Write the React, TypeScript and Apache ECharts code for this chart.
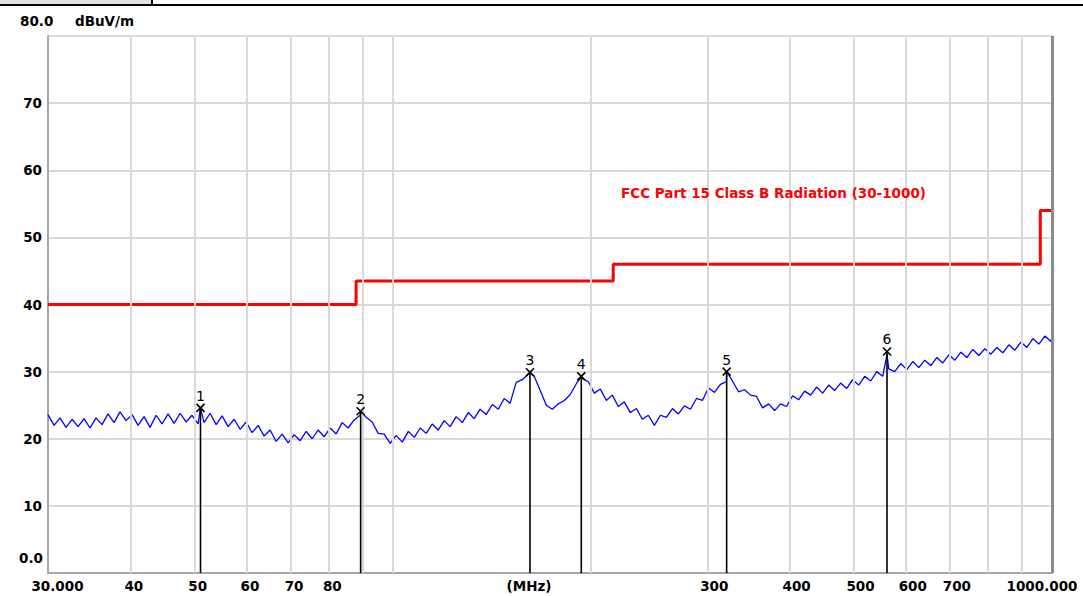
import React, { useEffect, useRef } from 'react';
import * as echarts from 'echarts';

// Measured trace (frequency in MHz, level in dBuV/m)
const traceFreqMHz = [
  30.0, 30.64, 31.29, 31.95, 32.63, 33.32, 34.02, 34.74, 35.48, 36.23,
  37.0, 37.78, 38.58, 39.4, 40.24, 41.09, 41.96, 42.85, 43.76, 44.68,
  45.63, 46.6, 47.59, 48.59, 49.62, 50.68, 51.1, 51.75, 52.85, 53.97,
  55.11, 56.28, 57.47, 58.69, 59.93, 61.2, 62.5, 63.82, 65.17, 66.55,
  67.96, 69.4, 70.87, 72.37, 73.91, 75.47, 77.07, 78.7, 80.37, 82.07,
  83.81, 85.59, 87.4, 89.25, 89.4, 91.14, 93.07, 95.05, 97.06, 99.12,
  101.2, 103.4, 105.6, 107.8, 110.1, 112.4, 114.8, 117.2, 119.7, 122.2,
  124.8, 127.5, 130.2, 132.9, 135.7, 138.6, 141.6, 144.6, 147.6, 150.7,
  153.9, 157.2, 160.5, 161.5, 163.9, 167.4, 171.0, 174.6, 178.3, 182.1,
  185.9, 189.9, 193.2, 193.9, 198.0, 202.2, 206.5, 210.9, 215.3, 219.9,
  224.5, 229.3, 234.2, 239.1, 244.2, 249.4, 254.7, 260.1, 265.6, 271.2,
  277.0, 282.9, 288.9, 295.0, 301.2, 307.6, 314.1, 320.8, 321.0, 327.6,
  334.6, 341.7, 348.9, 356.3, 363.9, 371.6, 379.5, 387.5, 395.7, 404.1,
  412.7, 421.5, 430.4, 439.5, 448.8, 458.4, 468.1, 478.0, 488.2, 498.5,
  509.1, 519.9, 530.9, 542.2, 553.7, 562.0, 565.4, 577.4, 589.6, 602.1,
  614.9, 627.9, 641.2, 654.8, 668.7, 682.9, 697.4, 712.2, 727.3, 742.7,
  758.4, 774.5, 790.9, 807.7, 824.8, 842.3, 860.2, 878.4, 897.0, 916.0,
  935.5, 955.3, 975.6, 996.3, 1000.0
];
const traceLevelDb = [
  23.6, 22.0, 23.1, 21.7, 22.9, 21.8, 23.0, 21.6, 23.1, 22.1,
  23.7, 22.4, 24.0, 22.7, 23.6, 22.0, 23.3, 21.7, 23.5, 22.2,
  23.7, 22.3, 23.8, 22.5, 23.5, 22.2, 24.6, 22.4, 23.8, 22.1,
  23.4, 21.8, 22.9, 21.4, 22.5, 20.9, 22.0, 20.4, 21.3, 19.6,
  20.7, 19.4, 20.6, 19.7, 21.1, 20.0, 21.3, 20.3, 21.6, 20.7,
  22.4, 21.6, 22.8, 23.5, 24.1, 23.2, 22.5, 20.8, 20.7, 19.3,
  20.5, 19.5, 21.1, 20.2, 21.6, 20.8, 22.2, 21.3, 22.7, 21.8,
  23.3, 22.4, 23.9, 23.0, 24.4, 23.6, 25.1, 24.4, 26.0, 25.3,
  28.4, 28.8, 29.6, 29.9, 29.3, 27.2, 25.0, 24.4, 25.2, 25.7,
  26.6, 28.2, 29.3, 29.0, 28.5, 26.8, 27.4, 25.7, 26.5, 24.8,
  25.5, 23.9, 24.5, 22.9, 23.5, 22.0, 23.5, 23.2, 24.5, 23.7,
  24.9, 24.4, 26.0, 25.7, 27.6, 26.9, 28.1, 28.5, 30.0, 28.6,
  27.0, 27.3, 26.5, 26.3, 24.6, 25.2, 24.2, 25.2, 24.8, 26.4,
  25.8, 27.1, 26.5, 27.7, 26.8, 28.0, 27.2, 28.3, 27.5, 28.8,
  28.0, 29.3, 28.6, 30.0, 29.3, 32.6, 30.4, 30.0, 31.2, 30.3,
  31.5, 30.6, 31.7, 30.9, 32.1, 31.3, 32.5, 31.7, 32.9, 32.1,
  33.3, 32.4, 33.4, 32.6, 33.6, 32.8, 34.0, 33.2, 34.4, 33.6,
  34.9, 34.1, 35.3, 34.5, 35.2
];

// FCC Part 15 Class B limit (stepped)
const limitFreqMHz = [30, 88, 88, 216, 216, 960, 960, 1000];
const limitLevelDb = [40, 40, 43.5, 43.5, 46, 46, 54, 54];
const limitName = 'FCC Part 15 Class B Radiation (30-1000)';

// Peak markers
const markerIds = ['1', '2', '3', '4', '5', '6'];
const markerFreqMHz = [51.1, 89.4, 161.5, 193.2, 321, 562];
const markerLevelDb = [24.6, 24.1, 29.9, 29.3, 30.0, 33.0];

// Axes
const gridFreqMHz = [40, 50, 60, 70, 80, 90, 100, 200, 300, 400, 500, 600, 700, 800, 900];
const xTickFreqMHz = [30, 40, 50, 60, 70, 80, 161, 300, 400, 500, 600, 700, 1000];
const xTickLabels = ['30.000', '40', '50', '60', '70', '80', '(MHz)', '300', '400', '500', '600', '700', '1000.000'];
const yMin = 0;
const yMax = 80;
const yStep = 10;
const yUnit = 'dBuV/m';

const FONT = 'DejaVu Sans';

export default function App() {
  const ref = useRef<HTMLDivElement>(null);

  useEffect(() => {
    if (!ref.current) return;
    const chart = echarts.init(ref.current, null, { renderer: 'svg' });

    const traceData = traceFreqMHz.map((f, i) => [f, traceLevelDb[i]]);
    const limitData = limitFreqMHz.map((f, i) => [f, limitLevelDb[i]]);
    const markerData = markerFreqMHz.map((f, i) => [f, markerLevelDb[i]]);

    const labelPad = (i: number) => {
      if (i === 0) return [0, 0, 0, 19];
      if (i === xTickLabels.length - 1) return [0, 20, 0, 0];
      if (xTickFreqMHz[i] >= 300) return [0, 0, 0, 14];
      if (xTickFreqMHz[i] === 161) return [0, 0, 0, 0];
      return [0, 0, 0, 7];
    };

    const option: any = {
      animation: false,
      backgroundColor: '#ffffff',
      grid: { left: 48, right: 31, top: 36, bottom: 23, containLabel: false },
      xAxis: {
        type: 'log',
        logBase: 10,
        min: 30,
        max: 1000,
        axisLine: { show: true, lineStyle: { color: '#a6a6a6', width: 2 } },
        axisTick: { show: false },
        axisLabel: { show: false },
        splitLine: { show: false },
        minorSplitLine: { show: false },
      },
      yAxis: {
        type: 'value',
        min: yMin,
        max: yMax,
        interval: yStep,
        axisLine: { show: true, lineStyle: { color: '#a6a6a6', width: 2 } },
        axisTick: { show: false },
        axisLabel: {
          formatter: (v: number) => (v === yMin || v === yMax ? '' : String(v)),
          color: '#000',
          fontFamily: FONT,
          fontWeight: 'bold',
          fontSize: 13.5,
          margin: 6,
        },
        splitLine: { lineStyle: { color: '#d9d9d9', width: 2 } },
      },
      graphic: [
        { type: 'rect', x: 0, y: 0, z: 100, shape: { width: 152, height: 4 }, style: { fill: '#e3e3e3' }, silent: true },
        { type: 'rect', x: 0, y: 4, z: 100, shape: { width: 1083, height: 2 }, style: { fill: '#000' }, silent: true },
        { type: 'rect', x: 151, y: 0, z: 100, shape: { width: 2, height: 5 }, style: { fill: '#000' }, silent: true },
        {
          type: 'text', x: 20, y: 21, z: 100,
          style: { text: yMax.toFixed(1), fill: '#000', fontFamily: FONT, fontWeight: 'bold', fontSize: 13.5, align: 'left', verticalAlign: 'middle' },
        },
        {
          type: 'text', x: 75, y: 21, z: 100,
          style: { text: yUnit, fill: '#000', fontFamily: FONT, fontWeight: 'bold', fontSize: 13.5, align: 'left', verticalAlign: 'middle' },
        },
        {
          type: 'text', x: 43, y: 558, z: 100,
          style: { text: yMin.toFixed(1), fill: '#000', fontFamily: FONT, fontWeight: 'bold', fontSize: 13.5, align: 'right', verticalAlign: 'middle' },
        },
        {
          type: 'text', x: 621, y: 193, z: 100,
          style: { text: limitName, fill: '#ff0000', fontFamily: FONT, fontWeight: 'bold', fontSize: 13.5, align: 'left', verticalAlign: 'middle' },
        },
      ],
      series: [
        {
          name: 'vgrid',
          type: 'line',
          data: [],
          z: 1,
          silent: true,
          markLine: {
            silent: true,
            symbol: 'none',
            animation: false,
            label: { show: false },
            lineStyle: { color: '#d9d9d9', width: 2, type: 'solid' },
            data: [
              ...gridFreqMHz.map((f) => ({ xAxis: f })),
              { xAxis: 1000, lineStyle: { color: '#8c8c8c', width: 3, type: 'solid' } },
            ],
          },
        },
        {
          name: 'xlabels',
          type: 'line',
          data: [],
          z: 1,
          silent: true,
          markLine: {
            silent: true,
            symbol: 'none',
            animation: false,
            lineStyle: { color: 'rgba(0,0,0,0)', width: 0 },
            label: { show: true },
            data: xTickFreqMHz.map((f, i) => ({
              xAxis: f,
              label: {
                show: true,
                position: 'start',
                distance: 6,
                formatter: xTickLabels[i],
                color: '#000',
                fontFamily: FONT,
                fontWeight: 'bold',
                fontSize: 13.5,
                padding: labelPad(i),
              },
            })),
          },
        },
        {
          name: limitName,
          type: 'line',
          data: limitData,
          z: 3,
          symbol: 'none',
          lineStyle: { color: '#ff0000', width: 3 },
          silent: true,
        },
        {
          name: 'Trace',
          type: 'line',
          data: traceData,
          z: 4,
          symbol: 'none',
          lineStyle: { color: '#0000ff', width: 1.3 },
          silent: true,
        },
        {
          name: 'Markers',
          type: 'custom',
          z: 5,
          silent: true,
          data: markerData,
          renderItem: (params: any, api: any) => {
            const f = api.value(0);
            const v = api.value(1);
            const top = api.coord([f, v]);
            const bot = api.coord([f, yMin]);
            const s = 4;
            const stroke = { stroke: '#000', lineWidth: 1.6 };
            return {
              type: 'group',
              children: [
                { type: 'line', shape: { x1: top[0], y1: top[1], x2: bot[0], y2: bot[1] }, style: stroke },
                { type: 'line', shape: { x1: top[0] - s, y1: top[1] - s, x2: top[0] + s, y2: top[1] + s }, style: stroke },
                { type: 'line', shape: { x1: top[0] - s, y1: top[1] + s, x2: top[0] + s, y2: top[1] - s }, style: stroke },
                {
                  type: 'text',
                  x: top[0],
                  y: top[1] - 5,
                  style: {
                    text: markerIds[params.dataIndex],
                    fill: '#000',
                    fontFamily: FONT,
                    fontSize: 14,
                    align: 'center',
                    verticalAlign: 'bottom',
                  },
                },
              ],
            };
          },
        },
      ],
    };

    chart.setOption(option);
    return () => chart.dispose();
  }, []);

  return (
    <div
      ref={ref}
      style={{ position: 'fixed', left: 0, top: 0, width: 1083, height: 596, background: '#fff' }}
    />
  );
}
